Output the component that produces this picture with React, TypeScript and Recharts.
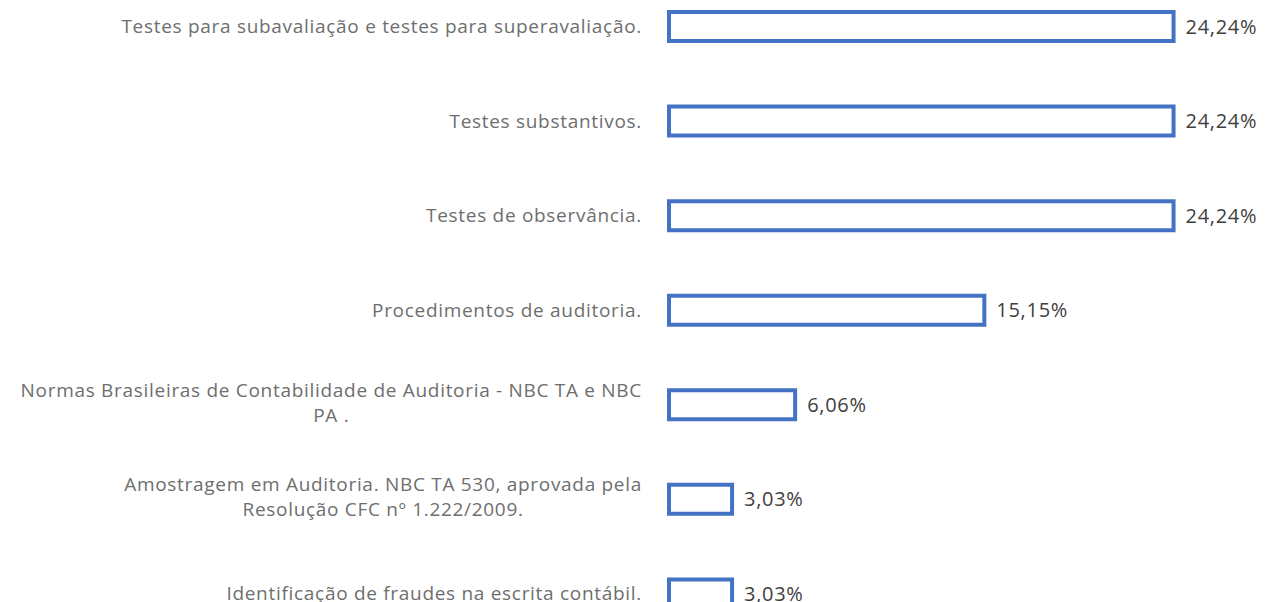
import { BarChart, Bar, XAxis, YAxis, LabelList } from "recharts";

// categories (line breaks follow the original wrapping)
const categories = [
  "Testes para subavaliação e testes para superavaliação.",
  "Testes substantivos.",
  "Testes de observância.",
  "Procedimentos de auditoria.",
  "Normas Brasileiras de Contabilidade de Auditoria - NBC TA e NBC\nPA .",
  "Amostragem em Auditoria. NBC TA 530, aprovada pela\nResolução CFC nº 1.222/2009.",
  "Identificação de fraudes na escrita contábil.",
];

const percents = [24.24, 24.24, 24.24, 15.15, 6.06, 3.03, 3.03];

const data = categories.map((name, i) => ({ name, value: percents[i] }));

const FONT = '"Open Sans", sans-serif';
const FONT_SIZE = 19;
const SPACING = 0.7;

let ctx: CanvasRenderingContext2D | null = null;
function measure(t: string) {
  if (!ctx) {
    ctx = document.createElement("canvas").getContext("2d");
  }
  if (!ctx) return t.length * 10;
  ctx.font = `${FONT_SIZE}px "Open Sans"`;
  return ctx.measureText(t).width + t.length * SPACING;
}

function CategoryTick(props: any) {
  const { x, y, payload } = props;
  const lines: string[] = String(payload.value).split("\n");
  const right = x - 27;
  const lh = 25;
  if (lines.length === 1) {
    return (
      <text
        x={right}
        y={y}
        dy="0.35em"
        textAnchor="end"
        fill="#6e6e6e"
        fontSize={FONT_SIZE}
        fontFamily={FONT}
        letterSpacing={SPACING}
      >
        {lines[0]}
      </text>
    );
  }
  const w = Math.max(...lines.map(measure));
  const cx = right - w / 2;
  const y0 = y - ((lines.length - 1) * lh) / 2 - 2;
  return (
    <text textAnchor="middle" fill="#6e6e6e" fontSize={FONT_SIZE} fontFamily={FONT} letterSpacing={SPACING}>
      {lines.map((l, i) => (
        <tspan key={i} x={cx} y={y0 + i * lh} dy="0.35em">
          {l}
        </tspan>
      ))}
    </text>
  );
}

export default function App() {
  return (
    <div
      style={{
        position: "fixed",
        left: 0,
        top: 0,
        width: 1265,
        height: 602,
        overflow: "hidden",
        background: "#fff",
      }}
    >
      <div style={{ position: "absolute", left: 0, top: -21 }}>
        <BarChart
          width={1265}
          height={662}
          data={data}
          layout="vertical"
          margin={{ top: 0, right: 34, bottom: 0, left: 0 }}
          barCategoryGap={0}
        >
          <XAxis type="number" domain={[0, 27]} hide />
          <YAxis
            type="category"
            dataKey="name"
            width={669}
            axisLine={false}
            tickLine={false}
            tickSize={0}
            tickMargin={0}
            interval={0}
            tick={<CategoryTick />}
          />
          <Bar
            dataKey="value"
            fill="#ffffff"
            stroke="#4472C4"
            strokeWidth={4}
            barSize={29}
            isAnimationActive={false}
          >
            <LabelList
              dataKey="value"
              position="right"
              offset={12}
              fill="#404040"
              fontSize={20}
              fontFamily={FONT}
              letterSpacing={SPACING}
              formatter={(v: any) => Number(v).toFixed(2).replace(".", ",") + "%"}
            />
          </Bar>
        </BarChart>
      </div>
    </div>
  );
}
